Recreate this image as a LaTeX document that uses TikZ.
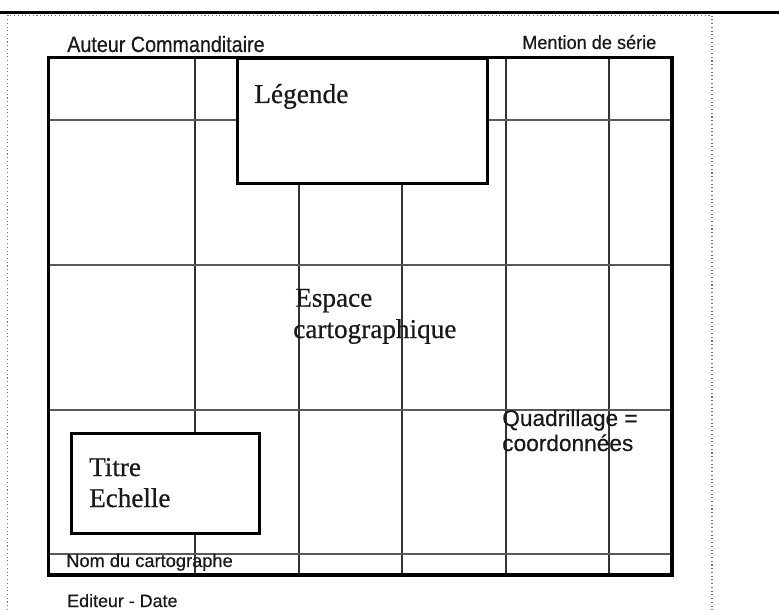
\documentclass[tikz,border=0pt]{standalone}
\usepackage{fontspec}
\setmainfont{Liberation Serif}[UprightFeatures={FakeBold=0.6}]
\newfontfamily\sansf{Liberation Sans}[UprightFeatures={FakeBold=0.5}]
\begin{document}
\begin{tikzpicture}[x=0.75pt,y=-0.75pt,
  gridline/.style={draw=black!80,line width=0.95pt},
  hgridline/.style={draw=black!65,line width=1.1pt},
  frameline/.style={draw=black,line width=2.5pt},
  boxline/.style={draw=black,fill=white,line width=2pt},
  dotframe/.style={draw=black!55,line width=0.8pt,dotted},
  sanslabel/.style={inner sep=0pt,anchor=base west,font=\sansf,text=black!90},
  seriflabel/.style={inner sep=0pt,anchor=base west,text=black!90}]
\useasboundingbox (0,0) rectangle (779,610);
% top rule and dotted page frame
\draw[line width=1.6pt] (0,12.5) -- (779,12.5);
\draw[dotframe] (7.5,610) -- (7.5,15.5) -- (712,15.5) -- (712,610);
% grid
\foreach \gx in {195,299,402,506,609}
  \draw[gridline] (\gx,57.5) -- (\gx,575);
\foreach \gy in {120,265,410,554}
  \draw[hgridline] (48.7,\gy) -- (672,\gy);
% main map frame
\draw[frameline] (48.7,57.5) rectangle (672,575);
% boxes
\node[boxline,inner sep=0pt,minimum width=250*0.75pt,minimum height=124.5*0.75pt,anchor=north west] (legbox) at (236,57.5) {};
\node[boxline,inner sep=0pt,line width=1.9pt,minimum width=188*0.75pt,minimum height=100*0.75pt,anchor=north west] (titbox) at (70,432) {};
% texts
\node[sanslabel,font=\sansf\fontsize{14.8pt}{16pt}\selectfont,yscale=1.12,transform shape] (auteur) at (67,52) {Auteur Commanditaire};
\node[sanslabel,font=\sansf\fontsize{13.6pt}{15pt}\selectfont,yscale=1.05,transform shape] (mention) at (522,49) {Mention de série};
\node[seriflabel,font=\fontsize{20.5pt}{24pt}\selectfont] (legende) at (254,103) {Légende};
\node[seriflabel,font=\fontsize{20.4pt}{24pt}\selectfont] (espace) at (295,306.7) {Espace};
\node[seriflabel,font=\fontsize{20.4pt}{24pt}\selectfont] (carto) at (293,338) {cartographique};
\node[seriflabel,font=\fontsize{20.3pt}{24pt}\selectfont] (titre) at (89,476) {Titre};
\node[seriflabel,font=\fontsize{20.3pt}{24pt}\selectfont] (echelle) at (89,507) {Echelle};
\node[sanslabel,font=\sansf\fontsize{17pt}{19pt}\selectfont] (quad) at (502,426) {Quadrillage =};
\node[sanslabel,font=\sansf\fontsize{17pt}{19pt}\selectfont] (coord) at (502,451) {coordonnées};
\node[sanslabel,font=\sansf\fontsize{13.7pt}{15pt}\selectfont] (nom) at (66,567) {Nom du cartographe};
\node[sanslabel,font=\sansf\fontsize{13.4pt}{15pt}\selectfont] (editeur) at (67,607) {Editeur - Date};
\end{tikzpicture}
\end{document}
